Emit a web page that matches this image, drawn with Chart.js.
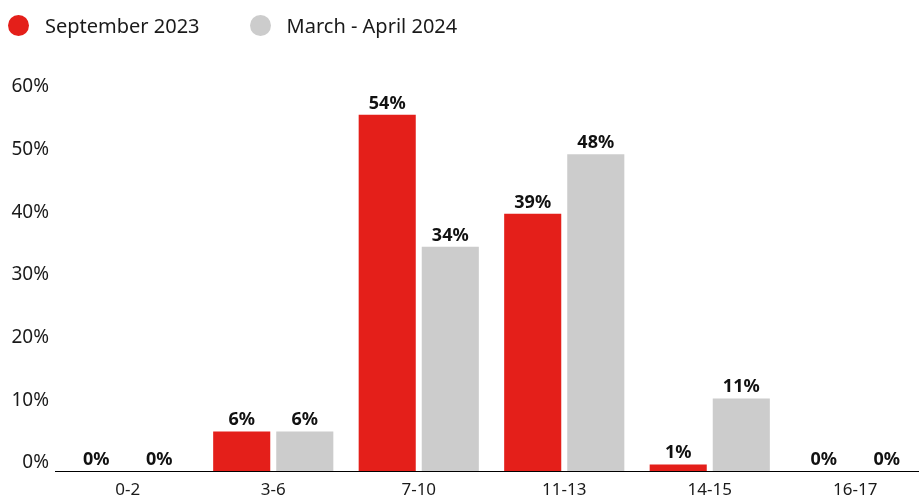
<!DOCTYPE html>
<html>
<head>
<meta charset="utf-8">
<script src="https://cdn.jsdelivr.net/npm/chart.js@4.4.1/dist/chart.umd.min.js"></script>
<style>
  html, body { margin: 0; padding: 0; background: #fff; overflow: hidden; }
  #wrap { position: relative; width: 928px; height: 510px; }
  #legend {
    position: absolute; left: 8px; top: 14px;
    display: flex; gap: 50px;
    font-family: "Noto Sans", sans-serif; font-size: 20px; color: #1a1a1a;
  }
  .item { display: flex; align-items: center; gap: 16px; height: 22px; }
  .dot { width: 21px; height: 21px; border-radius: 50%; }
</style>
</head>
<body>
<div id="wrap">
  <div id="legend"></div>
  <canvas id="ageChart"></canvas>
</div>
<script>
const categories = ['0-2', '3-6', '7-10', '11-13', '14-15', '16-17'];
const sept2023 = [0, 6, 54, 39, 1, 0];
const marApr2024 = [0, 6, 34, 48, 11, 0];
const tickValues = [0, 10, 20, 30, 40, 50, 60];

const RED = '#e41f1a';
const GREY = '#cccccc';

// draws the "54%" style labels above each bar
const barLabels = {
    id: 'barLabels',
    afterDatasetsDraw(chart) {
        const ctx = chart.ctx;
        ctx.save();
        ctx.font = 'bold 18px "Noto Sans", sans-serif';
        ctx.fillStyle = '#111';
        ctx.textAlign = 'center';
        ctx.textBaseline = 'alphabetic';
        chart.data.datasets.forEach((ds, i) => {
            chart.getDatasetMeta(i).data.forEach((bar, j) => {
                ctx.fillText(ds.data[j] + '%', bar.x, bar.y - 6);
            });
        });
        ctx.restore();
    }
};

const ctx = document.getElementById('ageChart').getContext('2d');

const chart = new Chart(ctx, {
    type: 'bar',
    data: {
        labels: categories,
        datasets: [{
            label: 'September 2023',
            data: sept2023,
            backgroundColor: RED,
            yAxisID: 'y'
        }, {
            label: 'March - April 2024',
            data: marApr2024,
            backgroundColor: GREY,
            yAxisID: 'y'
        }]
    },
    options: {
        responsive: true,
        maintainAspectRatio: false,
        animation: false,
        categoryPercentage: 0.867,
        barPercentage: 0.905,
        layout: { padding: { top: 95, right: 0, bottom: 0, left: 0 } },
        plugins: {
            legend: { display: false },
            tooltip: { enabled: false }
        },
        scales: {
            x: {
                grid: { display: false, drawTicks: false },
                border: { display: true, color: '#000', width: 1 },
                ticks: {
                    padding: 9,
                    color: '#1a1a1a',
                    font: { family: 'Noto Sans', size: 17 }
                },
                afterFit: (s) => { s.height = 39; }
            },
            // bars are measured on this one
            y: {
                display: false,
                min: 0,
                max: 57
            },
            // axis that carries the printed percentages
            yTicks: {
                position: 'left',
                min: 0,
                max: 60,
                grid: { display: false, drawTicks: false },
                border: { display: false },
                afterBuildTicks: (s) => { s.ticks = tickValues.map(v => ({ value: v })); },
                afterFit: (s) => { s.width = 55; },
                ticks: {
                    padding: 6,
                    labelOffset: -8,
                    color: '#1a1a1a',
                    font: { family: 'Noto Sans', size: 19 },
                    callback: (v) => v + '%'
                }
            }
        }
    },
    plugins: [barLabels]
});

// legend built from the chart's own datasets
const legendEl = document.getElementById('legend');
chart.data.datasets.forEach((ds) => {
    const item = document.createElement('div');
    item.className = 'item';
    const dot = document.createElement('span');
    dot.className = 'dot';
    dot.style.background = ds.backgroundColor;
    const txt = document.createElement('span');
    txt.textContent = ds.label;
    item.appendChild(dot);
    item.appendChild(txt);
    legendEl.appendChild(item);
});
</script>
</body>
</html>
